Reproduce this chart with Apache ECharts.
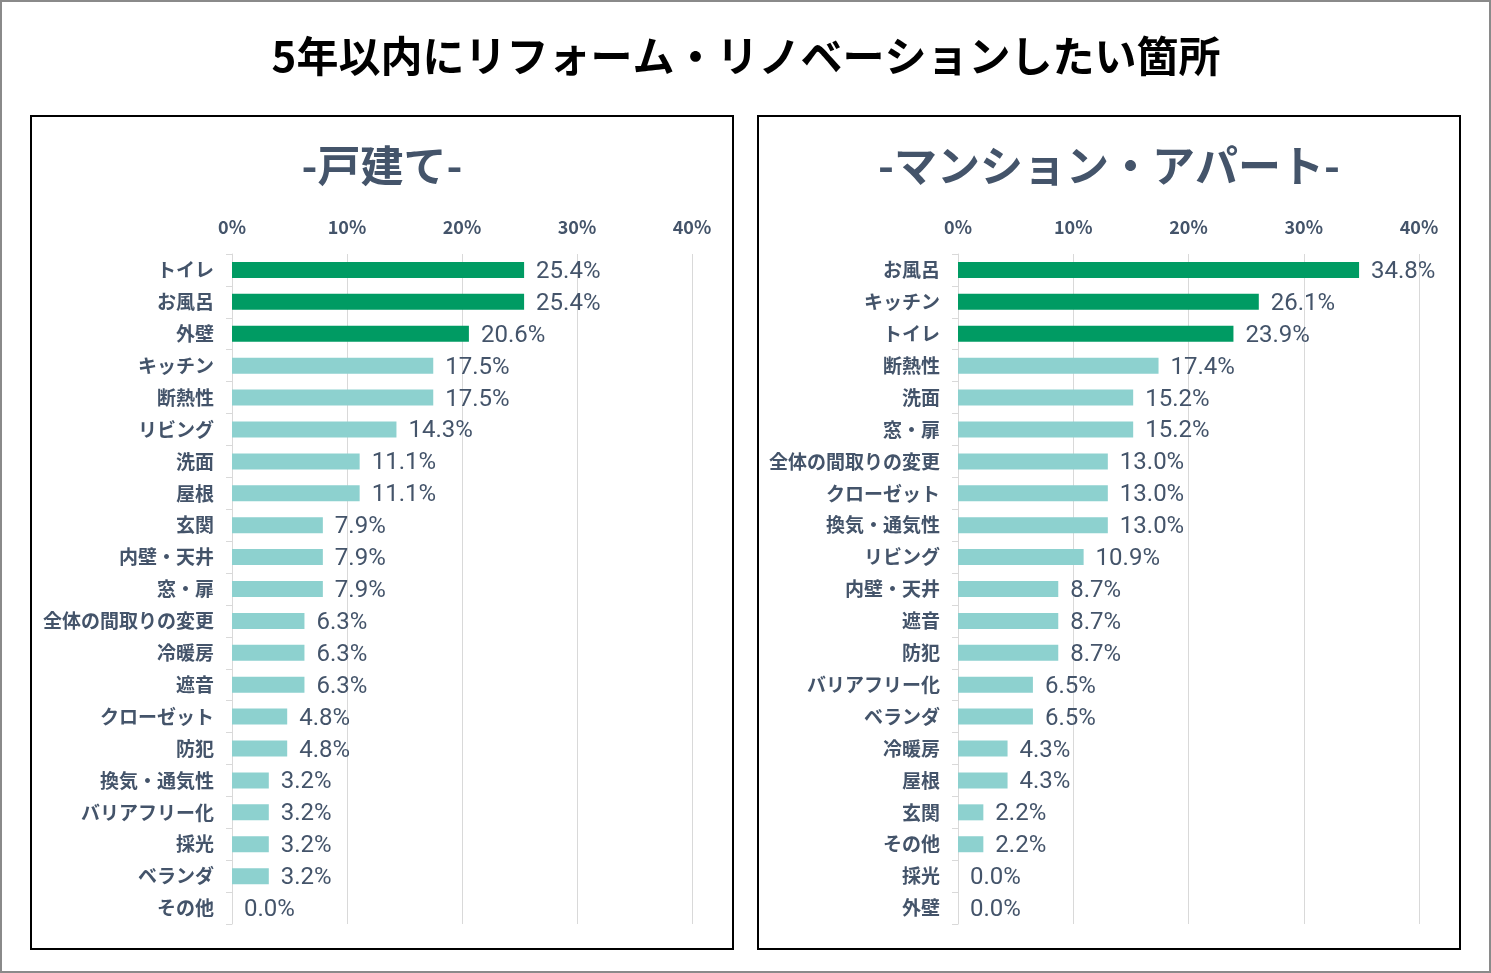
<!DOCTYPE html>
<html>
<head>
<meta charset="utf-8">
<title>5年以内にリフォーム・リノベーションしたい箇所</title>
<script src="https://cdn.jsdelivr.net/npm/echarts@6/dist/echarts.min.js"></script>
<style>
  html, body { margin: 0; padding: 0; background: #fff; }
  #chart { width: 1491px; height: 973px; }
</style>
</head>
<body>
<div id="chart"></div>
<script>
var houseCategories = ['トイレ', 'お風呂', '外壁', 'キッチン', '断熱性', 'リビング', '洗面', '屋根', '玄関', '内壁・天井', '窓・扉', '全体の間取りの変更', '冷暖房', '遮音', 'クローゼット', '防犯', '換気・通気性', 'バリアフリー化', '採光', 'ベランダ', 'その他'];
var houseValues = [25.4, 25.4, 20.6, 17.5, 17.5, 14.3, 11.1, 11.1, 7.9, 7.9, 7.9, 6.3, 6.3, 6.3, 4.8, 4.8, 3.2, 3.2, 3.2, 3.2, 0.0];

var flatCategories = ['お風呂', 'キッチン', 'トイレ', '断熱性', '洗面', '窓・扉', '全体の間取りの変更', 'クローゼット', '換気・通気性', 'リビング', '内壁・天井', '遮音', '防犯', 'バリアフリー化', 'ベランダ', '冷暖房', '屋根', '玄関', 'その他', '採光', '外壁'];
var flatValues = [34.8, 26.1, 23.9, 17.4, 15.2, 15.2, 13.0, 13.0, 13.0, 10.9, 8.7, 8.7, 8.7, 6.5, 6.5, 4.3, 4.3, 2.2, 2.2, 0.0, 0.0];

var xTicks = { min: 0, max: 40, interval: 10 };
var topCount = 3;

var ink = '#44546A';
var green = '#009B63';
var teal = '#8DD1CF';
var rule = '#D9D9D9';
var jp = '"Noto Sans CJK JP", "Noto Sans", sans-serif';

var chart = echarts.init(document.getElementById('chart'), null, { renderer: 'canvas' });

function colored(values) {
  return values.map(function(v, i) {
    return { value: v, itemStyle: { color: i < topCount ? green : teal } };
  });
}

function xAxisFor(gridIndex) {
  return {
    gridIndex: gridIndex,
    type: 'value',
    position: 'top',
    min: xTicks.min,
    max: xTicks.max,
    interval: xTicks.interval,
    axisLine: { show: false },
    axisTick: { show: false },
    axisLabel: {
      formatter: '{value}%',
      color: ink,
      fontFamily: jp,
      fontSize: 18,
      fontWeight: 'bold',
      margin: 18
    },
    splitLine: { show: true, lineStyle: { color: rule, width: 1 } }
  };
}

function yAxisFor(gridIndex, cats) {
  return {
    gridIndex: gridIndex,
    type: 'category',
    inverse: true,
    data: cats,
    axisLine: { show: true, lineStyle: { color: rule } },
    axisTick: { show: true, length: 6, lineStyle: { color: rule } },
    axisLabel: {
      color: ink,
      fontFamily: jp,
      fontSize: 19,
      fontWeight: 'bold',
      margin: 18
    }
  };
}

function seriesFor(idx, values) {
  return {
    type: 'bar',
    xAxisIndex: idx,
    yAxisIndex: idx,
    barWidth: 16,
    data: colored(values),
    label: {
      show: true,
      position: 'right',
      distance: 12,
      offset: [0, 2],
      color: ink,
      fontFamily: 'Roboto, "Noto Sans", sans-serif',
      fontSize: 24,
      formatter: function(p) { return p.value.toFixed(1) + '%'; }
    }
  };
}

chart.setOption({
  animation: false,
  title: [
    {
      text: '5年以内にリフォーム・リノベーションしたい箇所',
      left: 746, top: 35, textAlign: 'center', padding: 0,
      textStyle: { color: '#000', fontFamily: jp, fontSize: 42, fontWeight: 'bold' }
    },
    {
      text: '-戸建て-',
      left: 382, top: 144, textAlign: 'center', padding: 0,
      textStyle: { color: ink, fontFamily: jp, fontSize: 43, fontWeight: 'bold' }
    },
    {
      text: '-マンション・アパート-',
      left: 1109, top: 144, textAlign: 'center', padding: 0,
      textStyle: { color: ink, fontFamily: jp, fontSize: 43, fontWeight: 'bold' }
    }
  ],
  grid: [
    { left: 232, width: 460, top: 254, height: 670, outerBoundsMode: 'none' },
    { left: 958, width: 461, top: 254, height: 670, outerBoundsMode: 'none' }
  ],
  xAxis: [xAxisFor(0), xAxisFor(1)],
  yAxis: [yAxisFor(0, houseCategories), yAxisFor(1, flatCategories)],
  series: [seriesFor(0, houseValues), seriesFor(1, flatValues)],
  graphic: [
    { type: 'rect', silent: true, shape: { x: 1, y: 1, width: 1489, height: 971 }, style: { fill: 'none', stroke: '#8a8a8a', lineWidth: 2 } },
    { type: 'rect', silent: true, shape: { x: 31, y: 116, width: 702, height: 833 }, style: { fill: 'none', stroke: '#000', lineWidth: 2 } },
    { type: 'rect', silent: true, shape: { x: 758, y: 116, width: 702, height: 833 }, style: { fill: 'none', stroke: '#000', lineWidth: 2 } }
  ]
});

window.addEventListener('resize', function() { chart.resize(); });
</script>
</body>
</html>
